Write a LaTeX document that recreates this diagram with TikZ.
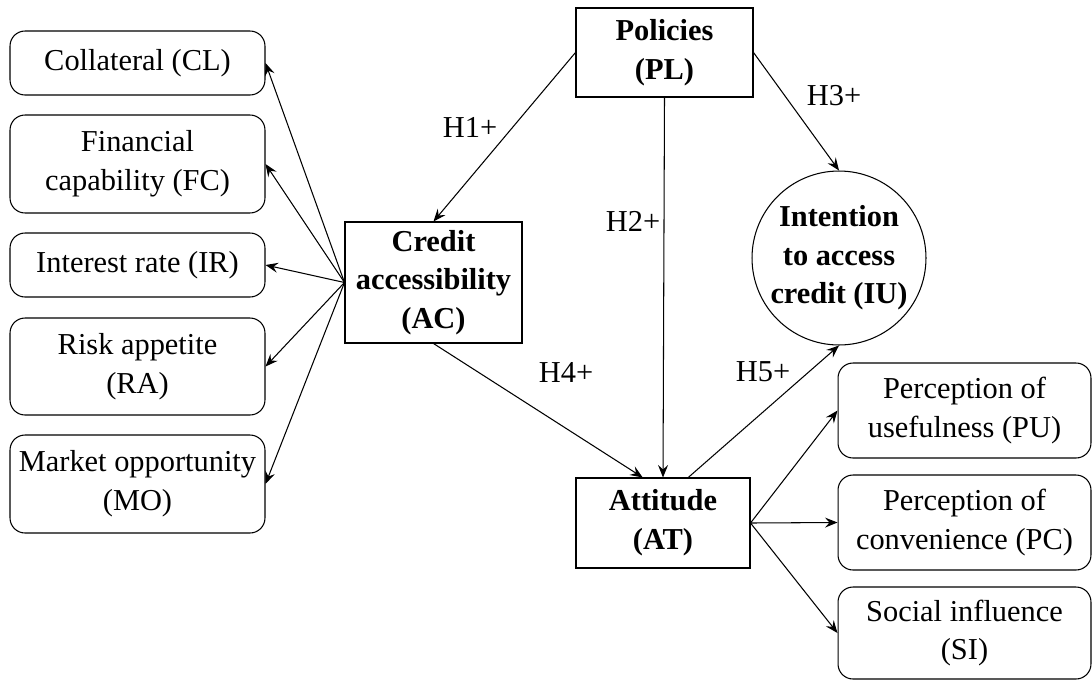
\documentclass[tikz,border=0pt]{standalone}
\usepackage{fontspec}
\setmainfont{Liberation Serif}
\usetikzlibrary{arrows,arrows.meta}

\begin{document}
\begin{tikzpicture}[x=0.02cm,y=-0.02cm,line width=0.6pt,
  font=\fontsize{17.3}{22}\selectfont,
  item/.style={draw,rounded corners=0.3cm,minimum width=5.1cm,align=center,inner sep=0pt},
  construct/.style={draw,align=center,inner sep=0pt,font=\fontsize{17.3}{22}\selectfont\bfseries},
  link/.style={-{Stealth[length=2.5mm,width=2mm,inset=0.9mm]}}]
\useasboundingbox (0,0) rectangle (1092,680);
\node[item,minimum height=1.28cm] (CL) at (137.5,63) {Collateral (CL)};
\node[item,minimum height=1.96cm] (FC) at (137.5,164) {Financial\\capability (FC)};
\node[item,minimum height=1.28cm] (IR) at (137.5,265) {Interest rate (IR)};
\node[item,minimum height=1.94cm] (RA) at (137.5,366.5) {Risk appetite\\(RA)};
\node[item,minimum height=1.96cm] (MO) at (137.5,484) {Market opportunity\\(MO)};
\node[construct,minimum width=3.54cm,minimum height=2.42cm] (AC) at (433.5,282.5) {Credit\\accessibility\\(AC)};
\node[construct,minimum width=3.54cm,minimum height=1.78cm] (PL) at (664.5,52.5) {Policies\\(PL)};
\node[construct,minimum width=3.48cm,minimum height=1.8cm] (AT) at (663,523) {Attitude\\(AT)};
\node[construct,circle,minimum size=3.48cm] (IU) at (839,258) {Intention\\to access\\credit (IU)};
\node[item,minimum width=5.06cm,minimum height=1.9cm] (PU) at (964.5,410.5) {Perception of\\usefulness (PU)};
\node[item,minimum width=5.06cm,minimum height=1.9cm] (PC) at (964.5,522.5) {Perception of\\convenience (PC)};
\node[item,minimum width=5.06cm,minimum height=1.84cm] (SI) at (964.5,633) {Social influence\\(SI)};
\foreach \b in {CL,FC,IR,RA,MO}
  \draw[link] (AC.west) -- (\b.east);
\foreach \b in {PU,PC,SI}
  \draw[link] (AT.east) -- (\b.west);
\draw[link] (PL.west) -- (AC.north);
\draw[link] (PL.south) -- (AT.north);
\draw[link] (PL.east) -- (IU.north);
\draw[link] (AC.south) -- (AT.114);
\draw[link] (AT.61) -- (IU.south);
\node (H1) at (470,127) {H1+};
\node (H2) at (633,221) {H2+};
\node (H3) at (834,96) {H3+};
\node (H4) at (566,372) {H4+};
\node (H5) at (763,372) {H5+};
\end{tikzpicture}
\end{document}
